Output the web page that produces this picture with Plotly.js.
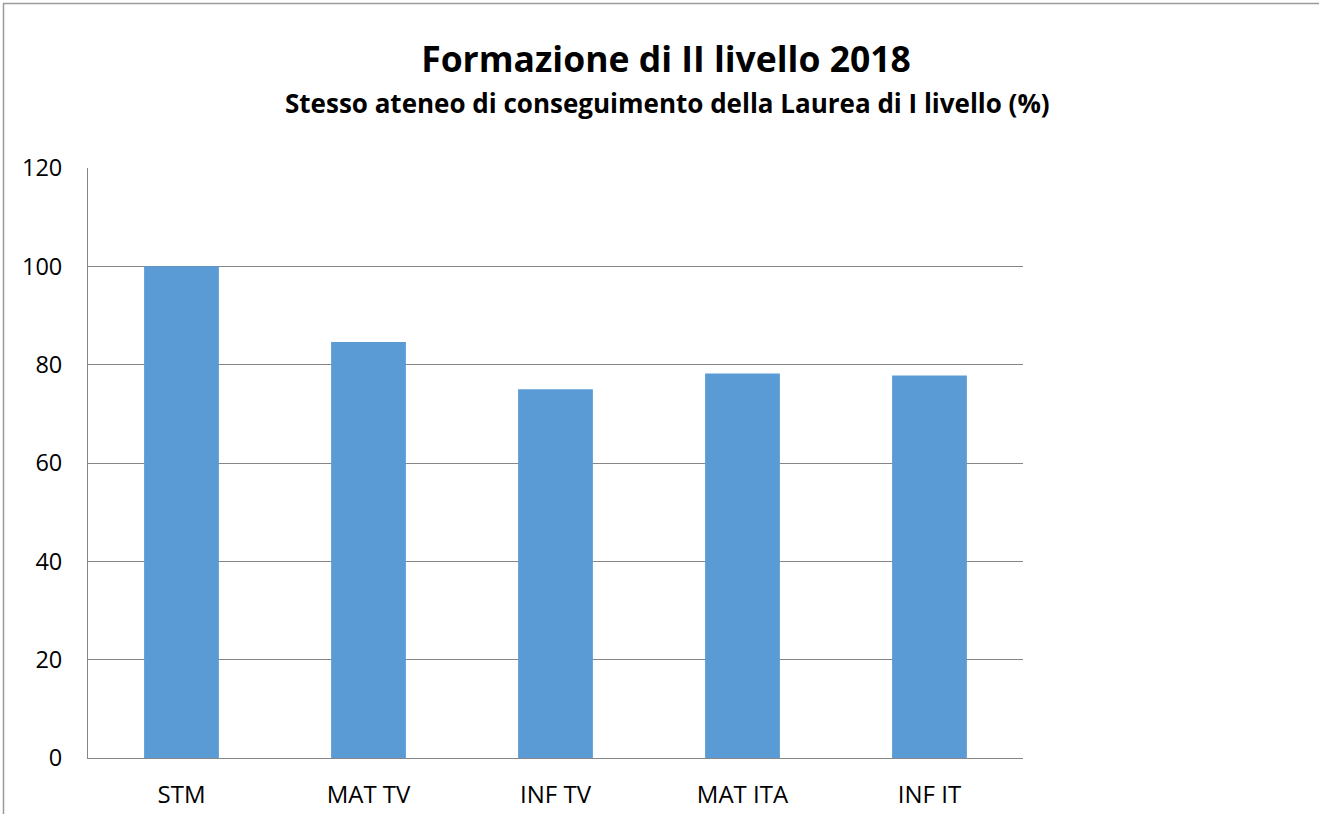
<!DOCTYPE html>
<html>
<head>
<meta charset="utf-8">
<script src="https://cdn.plot.ly/plotly-3.0.1.min.js"></script>
<style>
html, body { margin: 0; padding: 0; background: #fff; }
#chart { width: 1319px; height: 814px; }
</style>
</head>
<body>
<div id="chart"></div>
<script>
const categories = ["STM", "MAT TV", "INF TV", "MAT ITA", "INF IT"];
const values = [100, 84.6, 75.0, 78.2, 77.8];
const yTicks = [0, 20, 40, 60, 80, 100, 120];

const W = 1319, H = 814;
const L = 88, R = 1023, T = 168, B = 758;
const px = x => (x - L) / (R - L);
const py = y => (B - y) / (B - T);

const font = "'Open Sans', Lato, sans-serif";

const data = [{
  type: "bar",
  x: categories,
  y: values,
  marker: { color: "#5B9BD5" },
  hoverinfo: "x+y"
}];

const layout = {
  width: W, height: H,
  margin: { l: L, r: W - R, t: T, b: H - B, pad: 0 },
  paper_bgcolor: "#ffffff",
  plot_bgcolor: "#ffffff",
  bargap: 0.6,
  showlegend: false,
  font: { family: font, color: "#000000", size: 20 },
  title: {
    text: "<b>Formazione di II livello 2018</b>",
    font: { family: font, size: 35.5, color: "#000000" },
    x: 666 / W, xanchor: "center", xref: "container",
    y: 1 - 60 / H, yanchor: "middle", yref: "container"
  },
  annotations: [{
    text: "<b>Stesso ateneo di conseguimento della Laurea di I livello (%)</b>",
    xref: "paper", yref: "paper",
    x: px(667), y: py(103),
    xanchor: "center", yanchor: "middle",
    showarrow: false,
    font: { family: font, size: 26, color: "#000000" }
  }],
  xaxis: {
    type: "category",
    showgrid: false,
    showline: true, linecolor: "#868686", linewidth: 1,
    ticks: "",
    ticklabelstandoff: 15,
    tickfont: { family: font, size: 24, color: "#000000" },
    zeroline: false,
    fixedrange: true
  },
  yaxis: {
    range: [0, 120],
    tickvals: yTicks,
    ticktext: yTicks.map(String),
    showgrid: true, gridcolor: "#868686", gridwidth: 1,
    showline: true, linecolor: "#868686", linewidth: 1,
    ticks: "",
    ticklabelstandoff: 20,
    tickfont: { family: font, size: 23.5, color: "#000000" },
    zeroline: false,
    fixedrange: true
  },
  shapes: [
    { type: "line", xref: "paper", yref: "paper", x0: px(3), x1: px(1319), y0: py(3.5), y1: py(3.5),
      line: { color: "#9a9a9a", width: 1.5 } },
    { type: "line", xref: "paper", yref: "paper", x0: px(3.5), x1: px(3.5), y0: py(3), y1: py(814),
      line: { color: "#9a9a9a", width: 1.5 } }
  ]
};

Plotly.newPlot("chart", data, layout, { displayModeBar: false, staticPlot: true });
</script>
</body>
</html>
